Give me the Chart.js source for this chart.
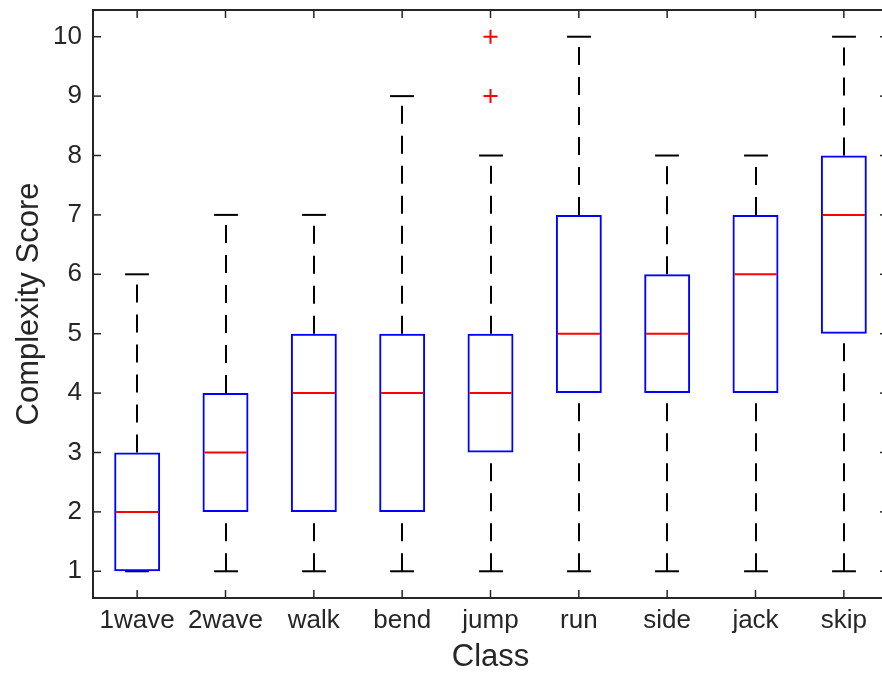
<!DOCTYPE html>
<html>
<head>
<meta charset="utf-8">
<script src="https://cdn.jsdelivr.net/npm/chart.js@4/dist/chart.umd.min.js"></script>
<style>
  html, body { margin: 0; padding: 0; background: #fff; overflow: hidden; }
  #wrap { width: 900px; height: 673px; position: relative; }
</style>
</head>
<body>
<div id="wrap"><canvas id="c"></canvas></div>
<script>
// Box plot summary per class
const classes      = ['1wave', '2wave', 'walk', 'bend', 'jump', 'run', 'side', 'jack', 'skip'];
const whiskerLow   = [1, 1, 1, 1, 1, 1, 1, 1, 1];
const quartile1    = [1, 2, 2, 2, 3, 4, 4, 4, 5];
const medians      = [2, 3, 4, 4, 4, 5, 5, 6, 7];
const quartile3    = [3, 4, 5, 5, 5, 7, 6, 7, 8];
const whiskerHigh  = [6, 7, 7, 9, 8, 10, 8, 8, 10];
const outlierClass = ['jump', 'jump'];
const outlierValue = [9, 10];
const yTicks       = [1, 2, 3, 4, 5, 6, 7, 8, 9, 10];
const yMin = 0.55, yMax = 10.45;

const INK = '#262626';
const FONT = '"Liberation Sans", Arial, Helvetica, sans-serif';

function seg(ctx, x1, y1, x2, y2) {
  ctx.beginPath(); ctx.moveTo(x1, y1); ctx.lineTo(x2, y2); ctx.stroke();
}

// Whiskers, caps, medians, the axes box with inward ticks, and axis titles
const boxParts = {
  id: 'boxParts',
  beforeDatasetsDraw(chart) {
    const { ctx, scales: { x, y } } = chart;
    const step = x.getPixelForValue(1) - x.getPixelForValue(0);
    const hw = step * 0.135;
    ctx.save();
    ctx.strokeStyle = '#000';
    ctx.lineWidth = 2;
    classes.forEach((c, i) => {
      const cx = Math.round(x.getPixelForValue(i));
      const yLo = y.getPixelForValue(whiskerLow[i]);
      const yQ1 = y.getPixelForValue(quartile1[i]);
      const yQ3 = y.getPixelForValue(quartile3[i]);
      const yHi = y.getPixelForValue(whiskerHigh[i]);
      ctx.setLineDash([18, 12]);
      if (yQ3 > yHi) seg(ctx, cx, yQ3, cx, yHi);
      if (yLo > yQ1) seg(ctx, cx, yLo, cx, yQ1);
      ctx.setLineDash([]);
      seg(ctx, cx - hw, yHi, cx + hw, yHi);
      seg(ctx, cx - hw, yLo, cx + hw, yLo);
    });
    ctx.restore();
  },
  afterDatasetsDraw(chart) {
    const { ctx, scales: { x, y } } = chart;
    const step = x.getPixelForValue(1) - x.getPixelForValue(0);
    const hw = step * 0.25;
    ctx.save();
    ctx.strokeStyle = '#ff0000';
    ctx.lineWidth = 2;
    classes.forEach((c, i) => {
      const cx = x.getPixelForValue(i);
      const ym = y.getPixelForValue(medians[i]);
      seg(ctx, cx - hw + 1, ym, cx + hw - 1, ym);
    });
    ctx.restore();
  },
  afterDraw(chart) {
    const { ctx, chartArea: a, scales: { x, y } } = chart;
    const tl = 8;
    ctx.save();
    ctx.strokeStyle = INK;
    ctx.lineWidth = 2;
    ctx.strokeRect(a.left, a.top, a.right - a.left, a.bottom - a.top);
    ctx.lineWidth = 1.5;
    yTicks.forEach(v => {
      const py = y.getPixelForValue(v);
      seg(ctx, a.left, py, a.left + tl, py);
      seg(ctx, a.right, py, a.right - tl, py);
    });
    classes.forEach((c, i) => {
      const px = x.getPixelForValue(i);
      seg(ctx, px, a.bottom, px, a.bottom - tl);
      seg(ctx, px, a.top, px, a.top + tl);
    });
    // axis titles
    ctx.fillStyle = INK;
    ctx.font = '31px ' + FONT;
    ctx.textAlign = 'center';
    ctx.textBaseline = 'alphabetic';
    ctx.fillText('Class', (a.left + a.right) / 2, 666);
    ctx.translate(38, (a.top + a.bottom) / 2);
    ctx.rotate(-Math.PI / 2);
    ctx.fillText('Complexity Score', 0, 0);
    ctx.restore();
  }
};

const boxData = classes.map((c, i) => [quartile1[i], quartile3[i]]);
const outlierData = outlierClass.map((c, i) => ({ x: c, y: outlierValue[i] }));

new Chart(document.getElementById('c'), {
  type: 'bar',
  data: {
    labels: classes,
    datasets: [
      {
        data: boxData,
        backgroundColor: 'rgba(0,0,0,0)',
        borderColor: '#0000ff',
        borderWidth: 2,
        borderSkipped: false,
        barPercentage: 0.52,
        categoryPercentage: 1.0
      },
      {
        type: 'line',
        data: outlierData,
        showLine: false,
        pointStyle: 'cross',
        pointRadius: 7,
        pointBorderColor: '#ff0000',
        pointBorderWidth: 2,
        pointBackgroundColor: '#ff0000'
      }
    ]
  },
  options: {
    responsive: true,
    maintainAspectRatio: false,
    animation: false,
    layout: { padding: { top: 10, right: 12, left: 0, bottom: 0 } },
    plugins: { legend: { display: false }, tooltip: { enabled: false } },
    scales: {
      x: {
        grid: { display: false, drawTicks: false },
        border: { display: false },
        ticks: {
          color: INK, padding: 7, autoSkip: false, maxRotation: 0,
          font: { family: FONT, size: 26 }
        },
        afterFit(scale) {
          scale.height = 75;
          scale.paddingLeft = 0; scale.paddingRight = 0;
        }
      },
      y: {
        min: yMin, max: yMax,
        grid: { display: false, drawTicks: false },
        border: { display: false },
        ticks: { color: INK, padding: 11, font: { family: FONT, size: 26 } },
        afterBuildTicks(scale) { scale.ticks = yTicks.map(v => ({ value: v })); },
        afterFit(scale) {
          scale.width = 93;
          scale.paddingTop = 0; scale.paddingBottom = 0;
        }
      }
    }
  },
  plugins: [boxParts]
});
</script>
</body>
</html>
